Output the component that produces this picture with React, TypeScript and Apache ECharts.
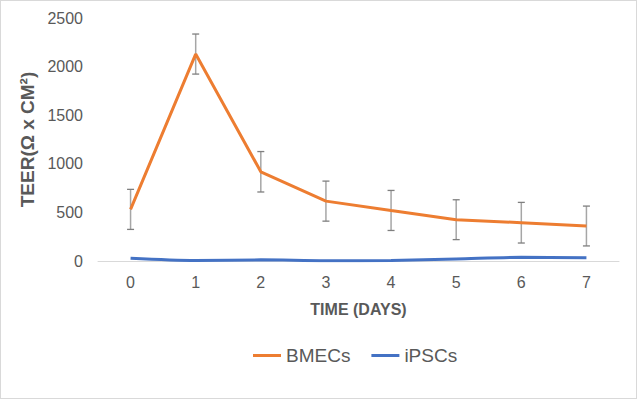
import React, { useEffect, useRef } from "react";
import * as echarts from "echarts";

const days = ["0", "1", "2", "3", "4", "5", "6", "7"];
const bmecs = [531, 2129, 918, 616, 520, 425, 394, 360];
const bmecsErr = [206, 206, 208, 206, 206, 205, 209, 205];
const ipscs = [28, 5, 12, 2, 5, 20, 38, 34];

export default function App() {
  const ref = useRef<HTMLDivElement>(null);
  useEffect(() => {
    document.body.style.margin = "0";
    const chart = echarts.init(ref.current!, null, { renderer: "svg" });
    const errData = bmecs.map((v, i) => [i, v - bmecsErr[i], v + bmecsErr[i]]);
    chart.setOption({
      animation: false,
      backgroundColor: "#ffffff",
      textStyle: { fontFamily: "Liberation Sans, Arial, sans-serif" },
      grid: { left: 97, right: 17, top: 17, bottom: 137, containLabel: false },
      legend: {
        data: ["BMECs", "iPSCs"],
        bottom: 28,
        left: 247,
        icon: "rect",
        itemWidth: 28,
        itemHeight: 3,
        itemGap: 21,
        textStyle: { fontSize: 19, color: "#595959" },
      },
      xAxis: {
        type: "category",
        data: days,
        boundaryGap: true,
        axisLine: { lineStyle: { color: "#d9d9d9", width: 1 } },
        axisTick: { show: false },
        axisLabel: { fontSize: 16, color: "#595959", margin: 13 },
        name: "TIME (DAYS)",
        nameLocation: "middle",
        nameGap: 40,
        nameTextStyle: { fontSize: 16, fontWeight: "bold", color: "#595959" },
      },
      yAxis: {
        type: "value",
        min: 0,
        max: 2500,
        interval: 500,
        axisLine: { show: false },
        axisTick: { show: false },
        splitLine: { show: false },
        axisLabel: { fontSize: 16, color: "#595959", margin: 15, formatter: (v: number) => String(v) },
        name: "TEER(Ω x CM²)",
        nameLocation: "middle",
        nameGap: 56,
        nameRotate: 90,
        nameTextStyle: { fontSize: 19, fontWeight: "bold", color: "#595959" },
      },
      series: [
        {
          name: "BMECs",
          type: "line",
          data: bmecs,
          symbol: "none",
          lineStyle: { color: "#ED7D31", width: 3 },
          itemStyle: { color: "#ED7D31" },
          z: 3,
        },
        {
          name: "iPSCs",
          type: "line",
          data: ipscs,
          symbol: "none",
          smooth: 0.3,
          lineStyle: { color: "#4472C4", width: 3 },
          itemStyle: { color: "#4472C4" },
          z: 3,
        },
        {
          name: "err",
          type: "custom",
          data: errData,
          z: 2,
          renderItem: (params: any, api: any) => {
            const x = api.value(0);
            const lo = api.coord([x, api.value(1)]);
            const hi = api.coord([x, api.value(2)]);
            const hw = 3.5;
            const st = { stroke: "#7f7f7f", lineWidth: 1.3 };
            return {
              type: "group",
              children: [
                { type: "line", shape: { x1: lo[0], y1: lo[1], x2: hi[0], y2: hi[1] }, style: { stroke: "#a6a6a6", lineWidth: 1.5 } },
                { type: "line", shape: { x1: lo[0] - hw, y1: lo[1], x2: lo[0] + hw, y2: lo[1] }, style: st },
                { type: "line", shape: { x1: hi[0] - hw, y1: hi[1], x2: hi[0] + hw, y2: hi[1] }, style: st },
              ],
            };
          },
        },
      ],
    });
    return () => chart.dispose();
  }, []);
  return (
    <div
      style={{
        position: "fixed",
        left: 0,
        top: 0,
        width: 637,
        height: 399,
        border: "1px solid #d9d9d9",
        boxSizing: "border-box",
        background: "#fff",
      }}
    >
      <div ref={ref} style={{ width: 635, height: 397 }} />
    </div>
  );
}
